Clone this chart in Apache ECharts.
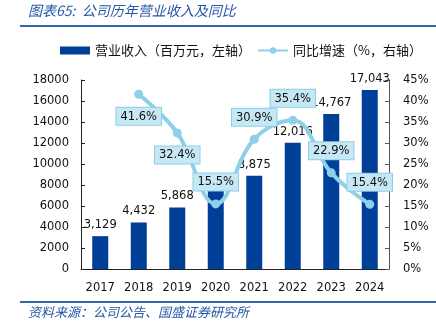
<!DOCTYPE html>
<html><head><meta charset="utf-8">
<script src="https://cdn.jsdelivr.net/npm/echarts@6/dist/echarts.min.js"></script>
<style>html,body{margin:0;padding:0;background:#fff}#c{width:436px;height:334px}</style>
</head><body><div id="c"></div>
<script>
const categories = ['2017','2018','2019','2020','2021','2022','2023','2024'];
const revenue = [3129, 4432, 5868, 7600, 8875, 12016, 14767, 17043];
const revenueLabels = ['3,129','4,432','5,868','','8,875','12,016','14,767','17,043'];
const growth = [null, 41.6, 32.4, 15.5, 30.9, 35.4, 22.9, 15.4];
const growthLabelPos = [null, 'bottom', 'bottom', 'top', 'top', 'top', 'top', 'top'];
const leftTicks = [0, 2000, 4000, 6000, 8000, 10000, 12000, 14000, 16000, 18000];
const rightTicks = [0, 5, 10, 15, 20, 25, 30, 35, 40, 45];

const FONT = 'DejaVu Sans';
const chart = echarts.init(document.getElementById('c'));
const labelBox = {
  show: true, fontFamily: FONT, fontSize: 11.5, color: '#111',
  backgroundColor: '#c6e7f4', borderColor: '#8fcde6', borderWidth: 1,
  padding: [3, 4, 2, 4], distance: 9,
  formatter: p => p.value == null ? '' : p.value.toFixed(1) + '%'
};
chart.setOption({
  animation: false,
  textStyle: { fontFamily: FONT },
  legend: {
    left: 55, top: 39, itemGap: 6, itemWidth: 30, itemHeight: 8,
    textStyle: { fontFamily: 'Noto Sans CJK SC', fontSize: 13, color: '#111' },
    data: [
      { name: '营业收入（百万元，左轴）', icon: 'rect' },
      { name: '同比增速（%，右轴）' }
    ]
  },
  grid: { left: 81, right: 47, top: 80, bottom: 65 },
  xAxis: {
    type: 'category', data: categories,
    axisLine: { lineStyle: { color: '#222', width: 1 } },
    axisTick: { show: false },
    axisLabel: { fontFamily: FONT, fontSize: 11.5, color: '#111', margin: 13, interval: 0 }
  },
  yAxis: [
    {
      type: 'value', min: leftTicks[0], max: leftTicks[leftTicks.length - 1], interval: 2000,
      axisLine: { show: true, lineStyle: { color: '#222' } },
      axisTick: { show: true, inside: true, length: 4, lineStyle: { color: '#222' } },
      splitLine: { show: false },
      axisLabel: { fontFamily: FONT, fontSize: 11.5, color: '#111', margin: 12, formatter: v => String(v) }
    },
    {
      type: 'value', min: rightTicks[0], max: rightTicks[rightTicks.length - 1], interval: 5,
      position: 'right',
      axisLine: { show: true, lineStyle: { color: '#555' } },
      axisTick: { show: true, inside: true, length: 4, lineStyle: { color: '#555' } },
      splitLine: { show: false },
      axisLabel: { fontFamily: FONT, fontSize: 11.5, color: '#111', margin: 14, formatter: '{value}%' }
    }
  ],
  series: [
    {
      name: '营业收入（百万元，左轴）', type: 'bar', data: revenue, barWidth: 16,
      itemStyle: { color: '#003f98' },
      label: {
        show: true, position: 'top', distance: 5, fontFamily: FONT, fontSize: 11.5, color: '#111',
        formatter: p => revenueLabels[p.dataIndex]
      },
      z: 2
    },
    {
      name: '同比增速（%，右轴）', type: 'line', yAxisIndex: 1, smooth: 0.4,
      data: growth.map((v, i) => v == null ? null : { value: v, label: { position: growthLabelPos[i] } }),
      symbol: 'circle', symbolSize: 9, showSymbol: true,
      lineStyle: { color: '#8ed0e9', width: 4 },
      itemStyle: { color: '#8ed0e9' },
      label: labelBox,
      z: 5
    }
  ],
  graphic: [
    { type: 'text', left: 28, top: 4, style: { text: '图表65:  公司历年营业收入及同比', fontFamily: 'Noto Sans CJK SC', fontSize: 14, fontStyle: 'italic', fill: '#2457a6' } },
    { type: 'rect', shape: { x: 20, y: 25, width: 416, height: 2 }, style: { fill: '#3566ad' } },
    { type: 'rect', shape: { x: 20, y: 301, width: 416, height: 2 }, style: { fill: '#3566ad' } },
    { type: 'text', left: 28, top: 306, style: { text: '资料来源：公司公告、国盛证券研究所', fontFamily: 'Noto Sans CJK SC', fontSize: 13, fontStyle: 'italic', fill: '#2457a6' } }
  ]
});
</script></body></html>
